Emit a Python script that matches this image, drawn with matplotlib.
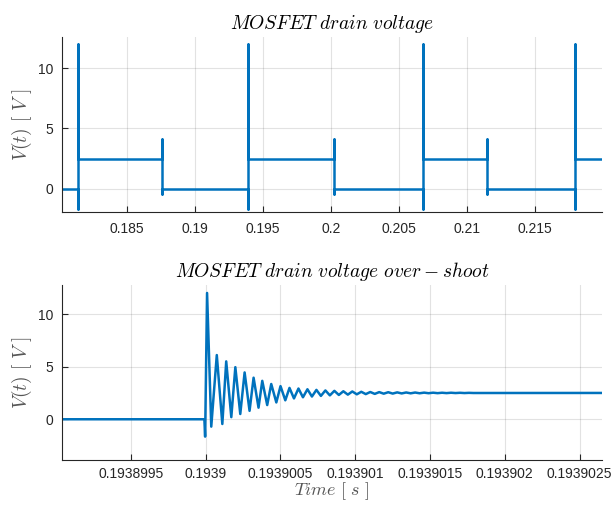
import numpy as np
import matplotlib.pyplot as plt
from matplotlib.ticker import FixedLocator, FuncFormatter

plt.rcParams['font.family'] = ['Liberation Sans', 'DejaVu Sans']
plt.rcParams['mathtext.fontset'] = 'cm'

# --- drain voltage, switching period overview ---
rise_times = [0.18140, 0.19390, 0.20679, 0.21789]
fall_times = [0.18762, 0.20020, 0.21145]
v_off = 0.0
v_on = 2.5
rise_peak = 12.0
rise_dip = -1.7
fall_peak = 4.1
fall_dip = -0.45

top_xlim = (0.18025, 0.21990)
top_ylim = (-1.96, 12.57)
top_xticks = [0.185, 0.19, 0.195, 0.2, 0.205, 0.21, 0.215]

# --- zoom on the turn-off edge at 0.1939 s (times in ns after t0) ---
t0 = 0.1939
ring_ns = [-970, -8, -3, 10, 38, 75, 112, 138, 172, 199, 232, 261, 294,
           321, 354, 379, 412, 439, 473, 501, 533, 561, 591, 621, 651,
           681, 711, 741, 771, 801, 831, 861, 891, 921, 951, 981, 1011,
           1041, 1071, 1101, 1131, 1161, 1191, 1221, 1251, 1281, 1311,
           1341, 1371, 1401, 1431, 1461, 1491, 1521, 1551, 1581, 1611,
           1641, 1671, 1701, 1731, 1761, 1791, 2700]
ring_v = [0.0, 0.0, -1.65, 12.0, -0.7, 6.1, -0.45, 5.5, 0.2, 4.95, 0.5,
          4.45, 0.8, 3.95, 1.1, 3.65, 1.35, 3.35, 1.6, 3.15, 1.8, 2.98,
          1.98, 2.92, 2.09, 2.85, 2.16, 2.79, 2.22, 2.74, 2.27, 2.70,
          2.31, 2.66, 2.34, 2.64, 2.37, 2.61, 2.39, 2.59, 2.41, 2.58,
          2.43, 2.57, 2.44, 2.555, 2.455, 2.545, 2.465, 2.54, 2.47,
          2.53, 2.475, 2.525, 2.48, 2.52, 2.485, 2.52, 2.49, 2.515,
          2.49, 2.51, 2.495, 2.5]

bot_xlim = (0.19389904, 0.19390265)
bot_ylim = (-3.9, 12.75)
bot_xticks = [0.1938995, 0.1939, 0.1939005, 0.193901, 0.1939015,
              0.193902, 0.1939025]

blue = '#0072BD'
dark = '#262626'


def build_overview():
    """vertical spikes at every edge, flat levels between"""
    t = [top_xlim[0]]
    v = [v_off]
    edges = sorted([(r, 'rise') for r in rise_times] + [(f, 'fall') for f in fall_times])
    for time, kind in edges:
        if kind == 'rise':
            t += [time, time, time, time]
            v += [v_off, rise_dip, rise_peak, v_on]
        else:
            t += [time, time, time, time]
            v += [v_on, fall_peak, fall_dip, v_off]
    t.append(top_xlim[1])
    v.append(v_on)
    return t, v


def style(ax, xticks, fmt, xpad):
    ax.xaxis.set_major_locator(FixedLocator(xticks))
    ax.xaxis.set_major_formatter(FuncFormatter(lambda x, p: fmt.format(x)))
    ax.set_yticks([0, 5, 10])
    ax.grid(True, color=dark, alpha=0.13, lw=0.8)
    ax.set_axisbelow(True)
    for s in ['top', 'right']:
        ax.spines[s].set_visible(False)
    for s in ['left', 'bottom']:
        ax.spines[s].set_color(dark)
        ax.spines[s].set_linewidth(0.8)
    ax.tick_params(direction='in', length=4, width=0.8, colors=dark,
                   labelsize=10, labelcolor=dark)
    ax.tick_params(axis='x', pad=xpad)
    ax.tick_params(axis='y', pad=6)


fig = plt.figure(figsize=(6.13, 5.05), dpi=100)

ax1 = fig.add_axes([0.1011, 0.5796, 0.8809, 0.3465])
t, v = build_overview()
ax1.plot(t, v, color=blue, lw=1.8)
ax1.set_xlim(*top_xlim)
ax1.set_ylim(*top_ylim)
style(ax1, top_xticks, '{:g}', 7)
ax1.set_title(r'$MOSFET\ drain\ voltage$', fontsize=14, color='black', pad=6)
ax1.set_ylabel(r'$V(t)\ [\ V\ ]$', fontsize=14, color='#555555', labelpad=3)

ax2 = fig.add_axes([0.1011, 0.0885, 0.8809, 0.347])
tt = [t0 + n * 1e-9 for n in ring_ns]
ax2.plot(tt, ring_v, color=blue, lw=1.8, solid_joinstyle='round')
ax2.set_xlim(*bot_xlim)
ax2.set_ylim(*bot_ylim)
style(ax2, bot_xticks, '{:.7g}', 5)
ax2.set_title(r'$MOSFET\ drain\ voltage\ over-shoot$', fontsize=14, color='black', pad=6)
ax2.set_ylabel(r'$V(t)\ [\ V\ ]$', fontsize=14, color='#555555', labelpad=3)
ax2.set_xlabel(r'$Time\ [\ s\ ]$', fontsize=13, color='#555555', labelpad=-1)

fig.savefig('out.png', dpi=100)
